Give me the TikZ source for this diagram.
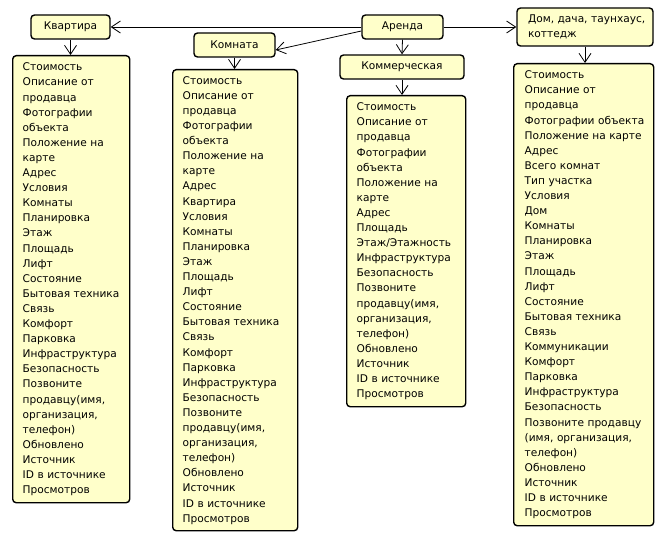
\documentclass[tikz,border=0pt]{standalone}
\usepackage{fontspec}
\setmainfont{DejaVu Sans}
\usetikzlibrary{arrows.meta}
\definecolor{boxfill}{HTML}{FFFFCA}
\tikzset{
  box/.style={draw=black, line width=1.4pt, fill=boxfill, rounded corners=3.5pt,
    inner ysep=0pt, font=\fontsize{10.6}{15.1}\selectfont},
  head/.style={box, align=center},
  itembox/.style={box, anchor=north west, align=left},
  conn/.style={draw=black, line width=0.8pt, -{Straight Barb[length=9pt,width=12pt,line width=0.8pt]}},
}
\newcommand{\itemlist}[1]{\begin{tabular}{@{}l@{}}#1\end{tabular}}
\begin{document}
\begin{tikzpicture}[x=1pt,y=-1pt]
\useasboundingbox[fill=white] (0,0) rectangle (667,535);

% headers
\node[head, minimum width=79pt, minimum height=24pt] (kv) at (70.5,27) {Квартира};
\node[head, minimum width=81pt, minimum height=24pt] (km) at (234.5,45) {Комната};
\node[head, minimum width=81pt, minimum height=24pt] (ar) at (402.5,27) {Аренда};
\node[head, minimum width=124pt, minimum height=24pt] (ko) at (402,67) {Коммерческая};
\node[box, minimum width=136pt, minimum height=38pt, text width=114pt, inner xsep=11pt, align=left] (dom) at (585,27)
  {\itemlist{Дом, дача, таунхаус,\\коттедж}};

% lists
\node[itembox, minimum width=117pt, minimum height=447pt, text width=97pt, inner xsep=10pt] (kvl) at (12,55) {\itemlist{
Стоимость\\Описание от\\продавца\\Фотографии\\объекта\\Положение на\\карте\\Адрес\\Условия\\Комнаты\\Планировка\\Этаж\\Площадь\\Лифт\\Состояние\\Бытовая техника\\Связь\\Комфорт\\Парковка\\Инфраструктура\\Безопасность\\Позвоните\\продавцу(имя,\\организация,\\телефон)\\Обновлено\\Источник\\ID в источнике\\Просмотров}};

\node[itembox, minimum width=125pt, minimum height=461pt, text width=105pt, inner xsep=10pt] (kml) at (172,69) {\itemlist{
Стоимость\\Описание от\\продавца\\Фотографии\\объекта\\Положение на\\карте\\Адрес\\Квартира\\Условия\\Комнаты\\Планировка\\Этаж\\Площадь\\Лифт\\Состояние\\Бытовая техника\\Связь\\Комфорт\\Парковка\\Инфраструктура\\Безопасность\\Позвоните\\продавцу(имя,\\организация,\\телефон)\\Обновлено\\Источник\\ID в источнике\\Просмотров}};

\node[itembox, minimum width=119pt, minimum height=311pt, text width=99pt, inner xsep=10pt] (kol) at (346,95) {\itemlist{
Стоимость\\Описание от\\продавца\\Фотографии\\объекта\\Положение на\\карте\\Адрес\\Площадь\\Этаж/Этажность\\Инфраструктура\\Безопасность\\Позвоните\\продавцу(имя,\\организация,\\телефон)\\Обновлено\\Источник\\ID в источнике\\Просмотров}};

\node[itembox, minimum width=140pt, minimum height=462pt, text width=118pt, inner xsep=11pt] (doml) at (513,63) {\itemlist{
Стоимость\\Описание от\\продавца\\Фотографии объекта\\Положение на карте\\Адрес\\Всего комнат\\Тип участка\\Условия\\Дом\\Комнаты\\Планировка\\Этаж\\Площадь\\Лифт\\Состояние\\Бытовая техника\\Связь\\Коммуникации\\Комфорт\\Парковка\\Инфраструктура\\Безопасность\\Позвоните продавцу\\(имя, организация,\\телефон)\\Обновлено\\Источник\\ID в источнике\\Просмотров}};

% connectors
\draw[conn] (ar.west) -- (kv.east);
\draw[conn] ([yshift=-4pt]ar.west) -- ([yshift=-5pt]km.east);
\draw[conn] (ar.east) -- (dom.west);
\draw[conn] (ar.south) -- (ko.north);
\draw[conn] (kv.south) -- (kv.south |- kvl.north);
\draw[conn] (km.south) -- (km.south |- kml.north);
\draw[conn] (ko.south) -- (ko.south |- kol.north);
\draw[conn] (dom.south) -- (dom.south |- doml.north);
\end{tikzpicture}
\end{document}
